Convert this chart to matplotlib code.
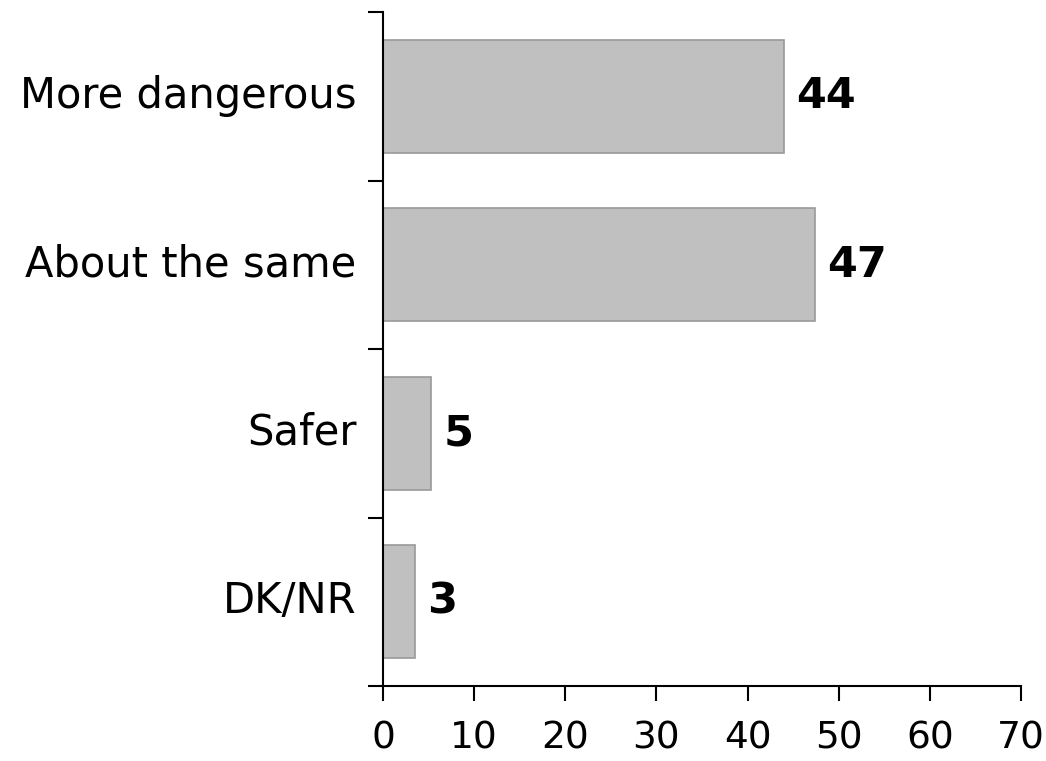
import matplotlib
matplotlib.use("Agg")
import matplotlib.pyplot as plt
import matplotlib.transforms as mtransforms

categories = ["More dangerous", "About the same", "Safer", "DK/NR"]
values = [44.0, 47.4, 5.3, 3.5]
labels = ["44", "47", "5", "3"]
xticks = [0, 10, 20, 30, 40, 50, 60, 70]

fig = plt.figure(figsize=(10.46, 7.61), dpi=100)
ax = fig.add_axes([383/1046, 1-686/761, (1021-383)/1046, (686-12)/761])

n = len(categories)
ypos = [n - 1 - i for i in range(n)]
ax.barh(ypos, values, height=0.67, color="#c0c0c0", edgecolor="#999999", linewidth=1.2)
for y, v, l in zip(ypos, values, labels):
    ax.text(v + 1.3, y, l, va="center", ha="left", fontsize=31, fontweight="bold", color="black")

ax.set_xlim(0, 70)
ax.set_ylim(-0.5, n - 0.5)
ax.set_xticks(xticks)
ax.set_xticklabels([str(t) for t in xticks], fontsize=27)
ax.set_yticks(ypos)
ax.set_yticklabels(categories, fontsize=30)
ax.set_yticks([i - 0.5 for i in range(n + 1)], minor=True)
ax.tick_params(axis="y", which="major", length=0, pad=19)
ax.tick_params(axis="y", which="minor", length=11, width=1.5, direction="out")
ax.tick_params(axis="x", length=11, width=1.5, direction="out", pad=14)
for s in ["top", "right"]:
    ax.spines[s].set_visible(False)
ax.spines["left"].set_linewidth(1.5)
ax.spines["bottom"].set_linewidth(1.5)

offset = mtransforms.ScaledTranslation(0, 0.05, fig.dpi_scale_trans)
for lab in ax.get_yticklabels():
    lab.set_transform(lab.get_transform() + offset)

fig.savefig("out.png", dpi=100)
